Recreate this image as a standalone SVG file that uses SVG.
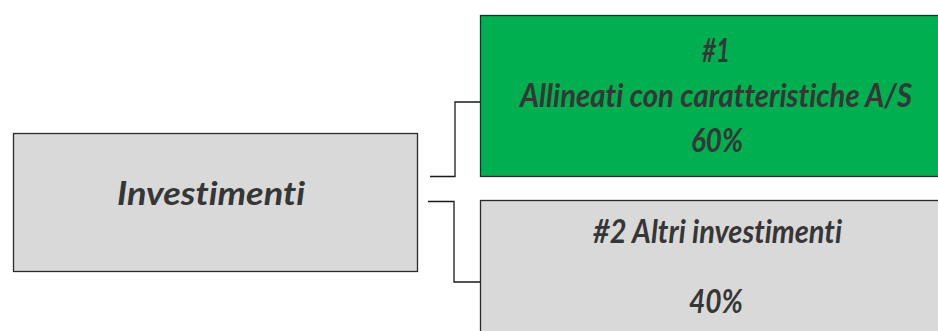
<svg xmlns="http://www.w3.org/2000/svg" width="938" height="331" viewBox="0 0 938 331">
<style>
.box{stroke:#2b2b2b;stroke-width:1.3}
.gray{fill:#d9d9d9}
.green{fill:#00b050}
.t{font-family:Lato,"Open Sans","Liberation Sans",sans-serif;font-weight:bold;font-style:italic;font-size:29px;fill:#363636;text-anchor:middle;font-variant-ligatures:none}
.c{fill:none;stroke:#1a1a1a;stroke-width:1.3}
</style>
<rect width="938" height="331" fill="#ffffff"/>
<g id="connectors">
<polyline class="c" points="430,176.5 455,176.5 455,102 480,102"/>
<polyline class="c" points="428,201.5 454,201.5 454,282 480,282"/>
</g>
<g id="investimenti">
<rect class="box gray" x="13.5" y="133.5" width="404" height="138"/>
<text class="t" transform="translate(211,205) scale(1,1.1)" textLength="188" lengthAdjust="spacingAndGlyphs">Investimenti</text>
</g>
<g id="allineati">
<rect class="box green" x="480.5" y="15.5" width="459" height="161"/>
<text class="t" transform="translate(716,62) scale(1,1.1)" textLength="28" lengthAdjust="spacingAndGlyphs">#1</text>
<text class="t" transform="translate(716,107) scale(1,1.1)" textLength="392" lengthAdjust="spacingAndGlyphs">Allineati con caratteristiche A/S</text>
<text class="t" transform="translate(717,152) scale(1,1.1)" textLength="52" lengthAdjust="spacingAndGlyphs">60%</text>
</g>
<g id="altri">
<rect class="box gray" x="480.5" y="200.5" width="459" height="132"/>
<text class="t" transform="translate(717.5,243) scale(1,1.1)" textLength="249" lengthAdjust="spacingAndGlyphs">#2 Altri investimenti</text>
<text class="t" transform="translate(716,313) scale(1,1.1)" textLength="54" lengthAdjust="spacingAndGlyphs">40%</text>
</g>
</svg>
